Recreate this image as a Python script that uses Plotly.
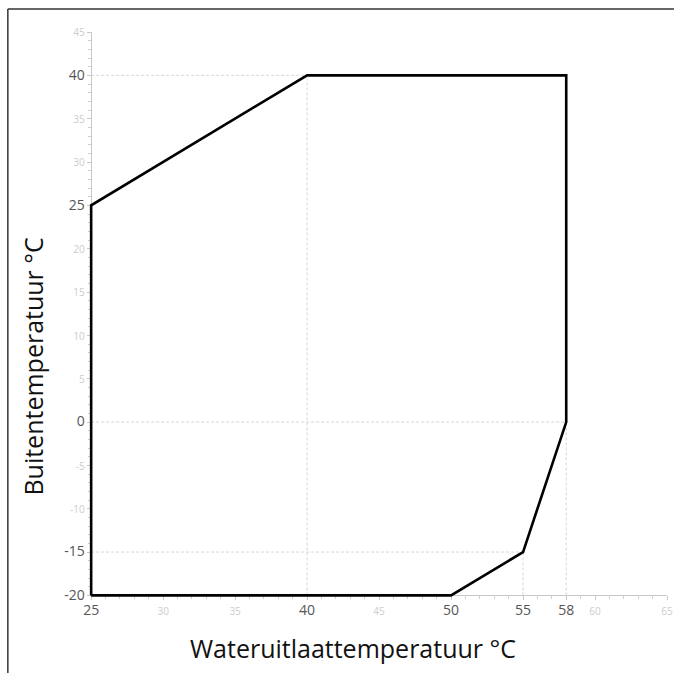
import plotly.graph_objects as go

# Operating envelope (water outlet temp °C, outdoor temp °C)
env_x = [25, 25, 40, 58, 58, 55, 50, 25]
env_y = [-20, 25, 40, 40, 0, -15, -20, -20]

# Dashed guide lines (start/end pairs)
guide_x = [[25, 40], [40, 40], [25, 58], [25, 55], [55, 55], [58, 58]]
guide_y = [[40, 40], [-20, 40], [0, 0], [-15, -15], [-20, -15], [-20, 0]]

x_ticks = [25, 30, 35, 40, 45, 50, 55, 58, 60, 65]
x_major = [25, 40, 50, 55, 58]
y_ticks = [-20, -15, -10, -5, 0, 5, 10, 15, 20, 25, 30, 35, 40, 45]
y_major = [-20, -15, 0, 25, 40]

x_title = "Wateruitlaattemperatuur °C"
y_title = "Buitentemperatuur °C"


def fmt(v, major):
    if major:
        return f"<span style='font-size:14px;color:#555'>{v}</span>"
    return f"<span style='font-size:10px;color:#cccccc'>{v}</span>"


gx, gy = [], []
for sx, sy in zip(guide_x, guide_y):
    gx += sx + [None]
    gy += sy + [None]

fig = go.Figure()
fig.add_trace(go.Scatter(x=gx, y=gy, mode="lines",
                         line=dict(color="#d6d6d6", width=1, dash="3px,2px"),
                         hoverinfo="skip", showlegend=False))
fig.add_trace(go.Scatter(x=env_x, y=env_y, mode="lines",
                         line=dict(color="#000", width=2.6),
                         showlegend=False))

XR = [24.85, 65]
YR = [-20.3, 45]

fig.update_layout(
    width=680, height=673, autosize=False,
    margin=dict(l=89, r=7, t=32, b=75),
    paper_bgcolor="white", plot_bgcolor="white",
    font=dict(family="Open Sans, sans-serif", color="#222"),
    xaxis=dict(range=XR, tickmode="array", tickvals=x_ticks,
               ticktext=[fmt(v, v in x_major) for v in x_ticks],
               showgrid=False, zeroline=False, showline=True,
               linecolor="#c8c8c8", linewidth=1, layer="below traces",
               ticks="outside", ticklen=4, tickcolor="#c8c8c8",
               anchor="free", position=(-20 - YR[0]) / (YR[1] - YR[0]),
               minor=dict(tickmode="linear", tick0=0, dtick=1, ticklen=3,
                          ticks="outside", tickcolor="#d0d0d0", showgrid=False),
               fixedrange=True),
    yaxis=dict(range=YR, tickmode="array", tickvals=y_ticks,
               ticktext=[fmt(v, v in y_major) for v in y_ticks],
               showgrid=False, zeroline=False, showline=True,
               linecolor="#c8c8c8", linewidth=1, layer="below traces",
               ticks="outside", ticklen=4, tickcolor="#c8c8c8",
               anchor="free", position=(25 - XR[0]) / (XR[1] - XR[0]),
               minor=dict(tickmode="linear", tick0=0, dtick=1, ticklen=3,
                          ticks="outside", tickcolor="#d0d0d0", showgrid=False),
               fixedrange=True),
    annotations=[
        dict(text=x_title, xref="paper", yref="paper", x=0.457, y=-0.089,
             xanchor="center", yanchor="middle", showarrow=False,
             font=dict(size=25, color="#111")),
        dict(text=y_title, xref="paper", yref="paper", x=-0.096, y=0.408,
             xanchor="center", yanchor="middle", showarrow=False, textangle=-90,
             font=dict(size=25, color="#111")),
    ],
    shapes=[
        dict(type="line", xref="paper", yref="paper",
             x0=(7 - 89) / 584, x1=(7 - 89) / 584, y0=(597.6 - 9) / 565.6, y1=(597.6 - 673) / 565.6,
             line=dict(color="#333", width=1.5)),
        dict(type="line", xref="paper", yref="paper",
             x0=(7 - 89) / 584, x1=(680 - 89) / 584, y0=(597.6 - 9) / 565.6, y1=(597.6 - 9) / 565.6,
             line=dict(color="#333", width=1.5)),
    ],
)

fig.write_html("out.html", config={"responsive": False})
